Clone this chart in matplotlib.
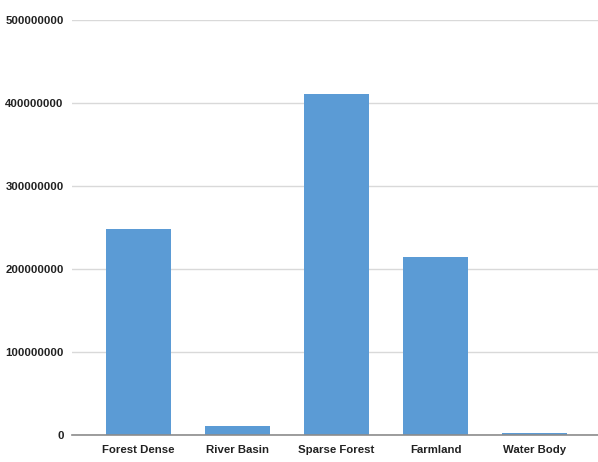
import matplotlib
matplotlib.use("Agg")
import matplotlib.pyplot as plt
import numpy as np

# land cover classes and their areas
categories = ["Forest Dense", "River Basin", "Sparse Forest", "Farmland", "Water Body"]
areas = [248000000, 10500000, 411000000, 214000000, 2800000]
y_ticks = [0, 100000000, 200000000, 300000000, 400000000, 500000000]

plt.rcParams['font.family'] = ['Liberation Sans', 'DejaVu Sans']

fig = plt.figure(figsize=(5.98, 4.62), dpi=100)
ax = fig.add_axes([72 / 598, 1 - 435 / 462, 1 - 72 / 598, (435 - 20) / 462])

x = np.arange(len(categories))
ax.bar(x, areas, width=0.65, color='#5B9BD5', zorder=3)

ax.set_ylim(0, 500000000)
ax.set_xlim(-0.672, 4.64)
ax.set_yticks(y_ticks)
ax.set_yticklabels([str(v) for v in y_ticks])
ax.set_xticks(x)
ax.set_xticklabels(categories)

ax.grid(True, axis='y', color='#D9D9D9', linewidth=1.0, zorder=0)
for s in ['top', 'right', 'left']:
    ax.spines[s].set_visible(False)
ax.spines['bottom'].set_color('#8C8C8C')
ax.spines['bottom'].set_linewidth(1.2)
ax.spines['bottom'].set_zorder(4)

ax.tick_params(axis='both', length=0, labelsize=8.2, labelcolor='#222222')
ax.tick_params(axis='y', pad=6)
ax.tick_params(axis='x', pad=7)
for lbl in ax.get_xticklabels() + ax.get_yticklabels():
    lbl.set_fontweight('bold')

fig.savefig("out.png", dpi=100)
